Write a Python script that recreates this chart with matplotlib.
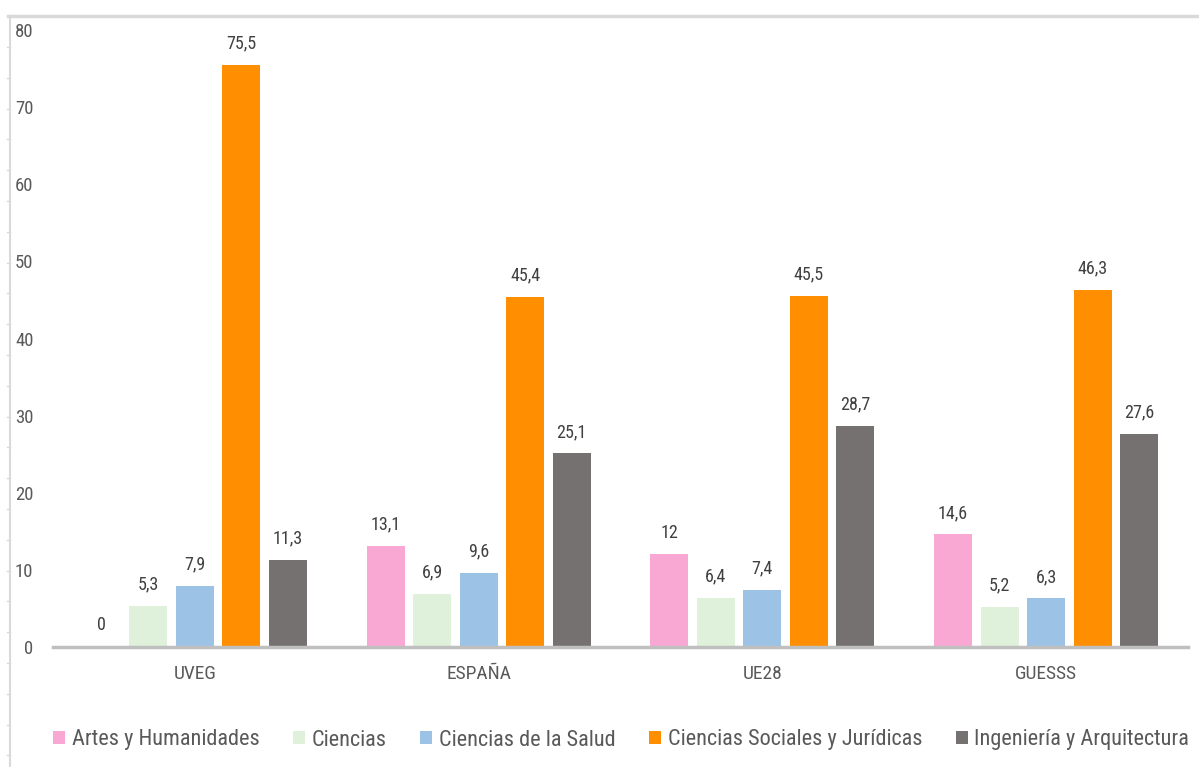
import numpy as np
import matplotlib
matplotlib.use("Agg")
import matplotlib.pyplot as plt
from matplotlib.lines import Line2D
from matplotlib import font_manager

## data
groups = ["UVEG", "ESPAÑA", "UE28", "GUESSS"]
series = ["Artes y Humanidades", "Ciencias", "Ciencias de la Salud",
          "Ciencias Sociales y Jurídicas", "Ingeniería y Arquitectura"]
artes = [0, 13.1, 12, 14.6]
ciencias = [5.3, 6.9, 6.4, 5.2]
salud = [7.9, 9.6, 7.4, 6.3]
sociales = [75.5, 45.4, 45.5, 46.3]
ingenieria = [11.3, 25.1, 28.7, 27.6]
yticks = [0, 10, 20, 30, 40, 50, 60, 70, 80]

values = [artes, ciencias, salud, sociales, ingenieria]
colors = ["#F9A7D3", "#DFF1DA", "#9CC3E6", "#FF8F00", "#767171"]
txt = "#595959"

## pick a narrow font if one is there
names = set(f.name for f in font_manager.fontManager.ttflist)
fam = "Liberation Sans"
for cand in ["Roboto Condensed", "Open Sans Condensed", "Liberation Sans Narrow"]:
    if cand in names:
        fam = cand
        break
plt.rcParams['font.family'] = [fam, 'DejaVu Sans']

fig = plt.figure(figsize=(11.99, 7.67), dpi=100)
W, H = 1199.0, 767.0
ax = fig.add_axes([53 / W, 1 - 647 / H, (1188 - 53) / W, (647 - 30) / H])

x = np.arange(len(groups))
pitch = 0.164
width = 0.134
for k, (vals, col) in enumerate(zip(values, colors)):
    pos = x + (k - 2) * pitch
    bars = ax.bar(pos, vals, width, color=col, label=series[k], zorder=2)
    for b, v in zip(bars, vals):
        lab = ("%g" % v).replace(".", ",")
        ax.annotate(lab, (b.get_x() + b.get_width() / 2, v), xytext=(0, 9),
                    textcoords="offset points", ha="center", va="bottom",
                    fontsize=13, color="#404040")

ax.set_xlim(-0.5, 3.5)
ax.set_ylim(0, 80)
ax.set_yticks(yticks)
ax.set_yticklabels([str(t) for t in yticks], fontsize=13.5, color=txt)
ax.set_xticks(x)
ax.set_xticklabels(groups, fontsize=14, color=txt)
ax.tick_params(axis="y", length=0, pad=14)
ax.tick_params(axis="x", length=0, pad=13)
for s in ["top", "right", "left"]:
    ax.spines[s].set_visible(False)
ax.spines["bottom"].set_color("#BFBFBF")
ax.spines["bottom"].set_linewidth(2.5)
ax.spines["bottom"].set_zorder(3)

## partial chart frame on the top and left
fig.add_artist(Line2D([8 / W, 1], [1 - 16 / H, 1 - 16 / H], color="#D9D9D9", lw=2.5))
fig.add_artist(Line2D([10 / W, 10 / W], [1 - 16 / H, 0], color="#D9D9D9", lw=1.5))
for ty in np.arange(47, 767, 30.8):
    fig.add_artist(Line2D([7 / W, 10 / W], [1 - ty / H, 1 - ty / H], color="#D9D9D9", lw=1))

leg = fig.legend(loc="center", bbox_to_anchor=(621 / W, 1 - 740 / H), ncol=5,
                 frameon=False, fontsize=16, handlelength=0.55, handleheight=0.55,
                 handletextpad=0.3, columnspacing=1.5, labelcolor=txt)

fig.savefig("out.png", dpi=100, facecolor="white")
